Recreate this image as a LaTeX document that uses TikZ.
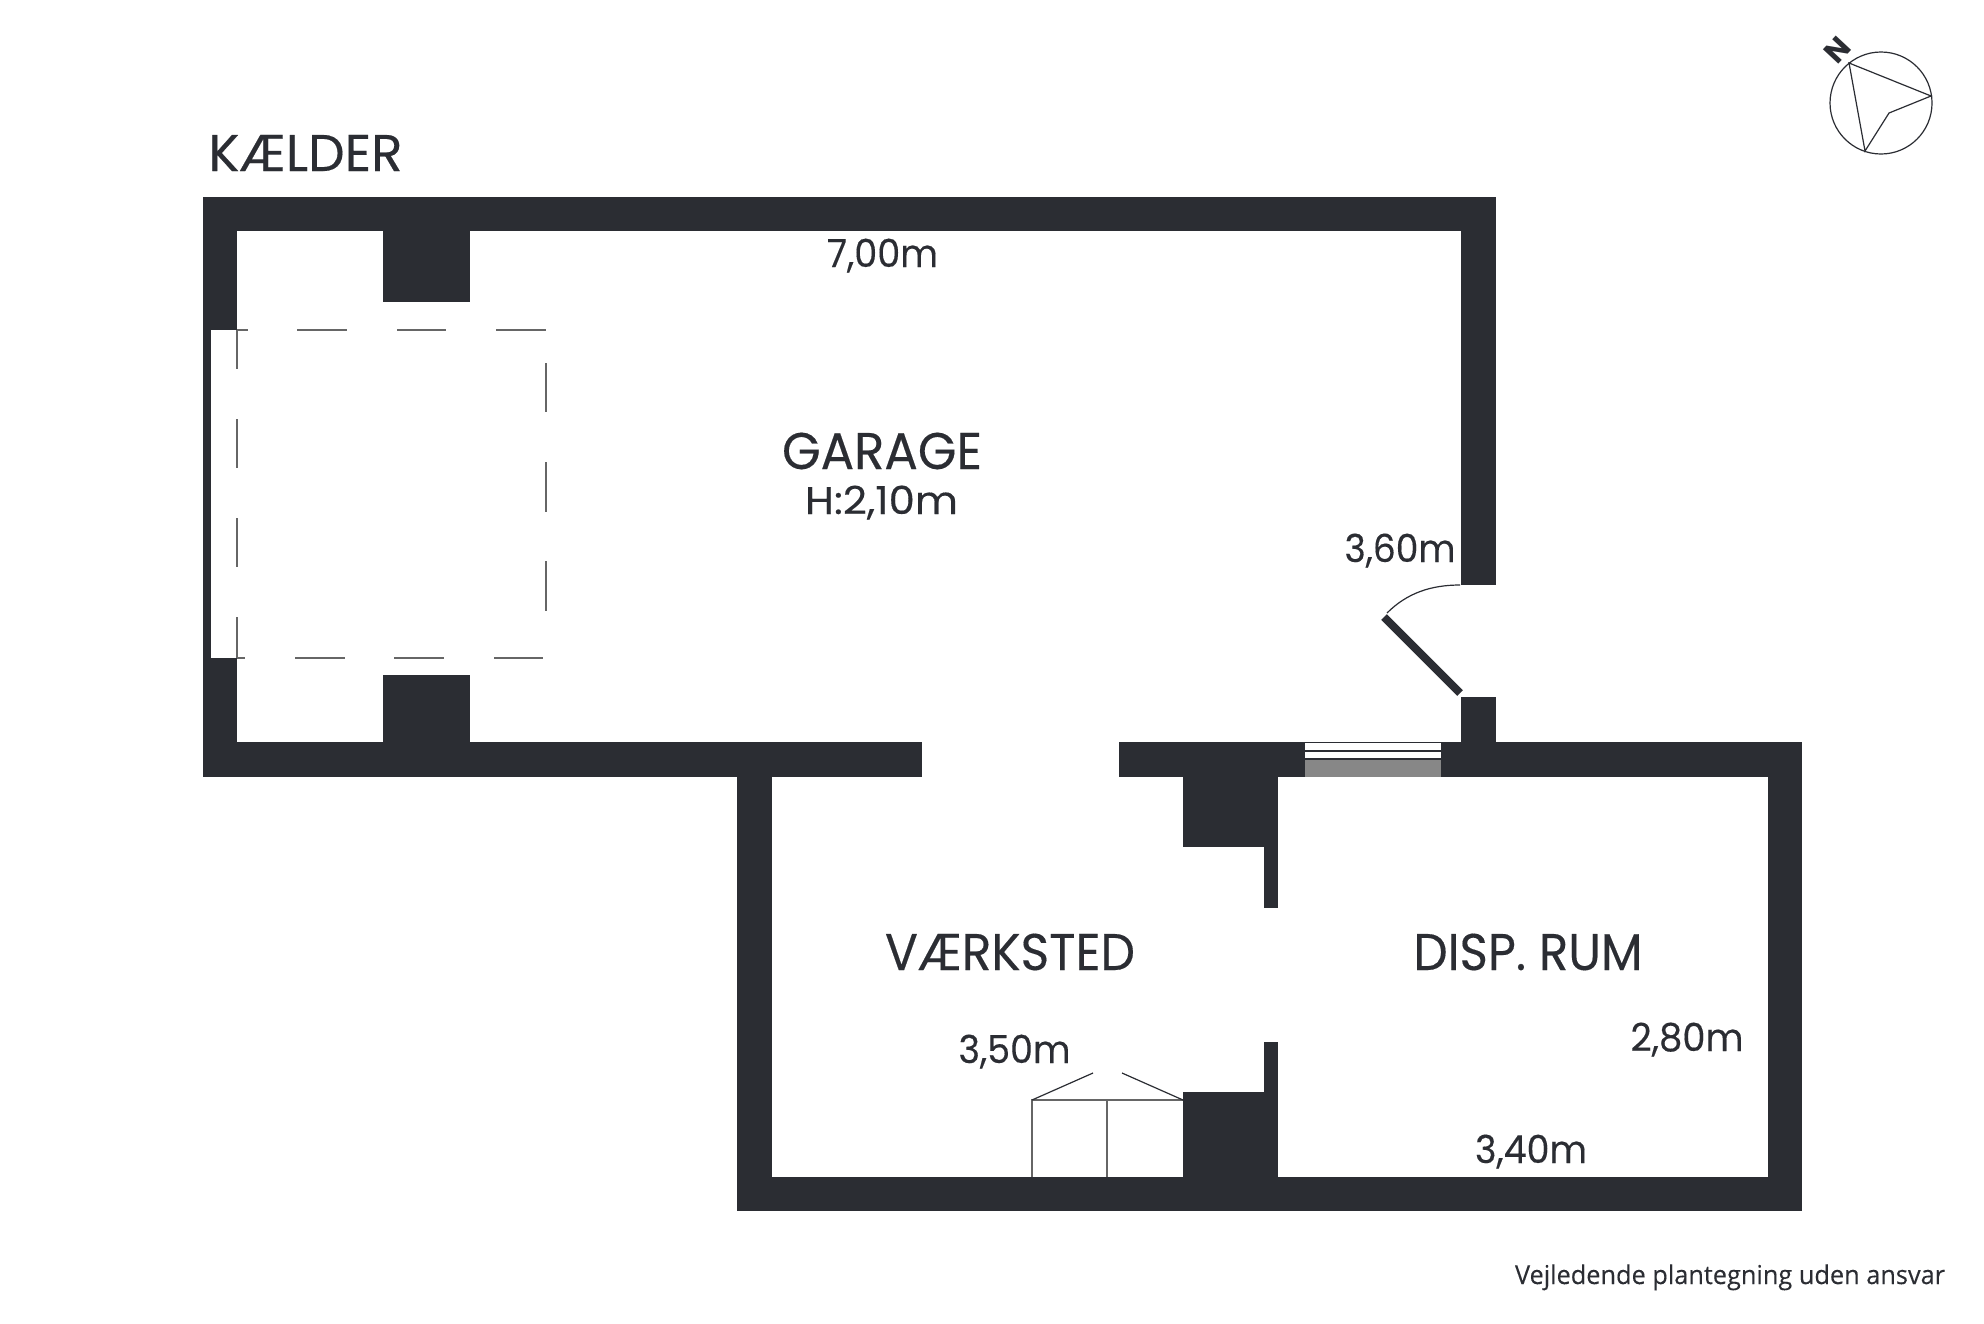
\documentclass[tikz,border=0pt]{standalone}
\usepackage{graphicx}
\usepackage{fontspec}
\setmainfont{Poppins}
\newfontfamily\titlefont[FakeBold=0.3]{Poppins}
\newfontfamily\footfont[FakeBold=0.15]{Open Sans}
\definecolor{wallc}{HTML}{2B2D33}
\definecolor{dashc}{HTML}{666666}
\definecolor{sillc}{HTML}{878787}
\newsavebox{\fitbox}
\newcommand{\fitw}[2]{\sbox{\fitbox}{#2}\pgfmathsetmacro{\fitr}{#1/\wd\fitbox}\scalebox{\fitr}[1]{\usebox{\fitbox}}}
\tikzset{
  wall/.style={fill=wallc,draw=none},
  dashline/.style={draw=dashc,line width=0.75pt},
  thinline/.style={draw=wallc,line width=0.6pt},
  cabline/.style={draw=dashc,line width=0.75pt},
  lbl/.style={anchor=base,inner sep=0pt,outer sep=0pt,text=wallc},
  roomtitle/.style={lbl,font=\titlefont\fontsize{25.8}{30}\selectfont},
  dim/.style={lbl,font=\titlefont\fontsize{19.3}{24}\selectfont},
  foot/.style={lbl,font=\footfont\fontsize{13}{16}\selectfont}
}
\begin{document}
\begin{tikzpicture}[x=0.5pt,y=-0.5pt]
\fill[white] (0,0) rectangle (1984,1323);
\useasboundingbox (0,0) rectangle (1984,1323);
% walls
\fill[wall] (203,197) rectangle (1496,231);
\fill[wall] (203,197) rectangle (237,776.5);
\fill[wall] (203,742) rectangle (922,776.5);
\fill[wall] (383,231) rectangle (470,302);
\fill[wall] (383,675) rectangle (470,742);
\fill[wall] (1461,197) rectangle (1496,585);
\fill[wall] (1461,697) rectangle (1496,742);
\fill[wall] (1119,742) rectangle (1802,777);
\fill[wall] (737,742) rectangle (772,1211);
\fill[wall] (737,1177) rectangle (1802,1211);
\fill[wall] (1768,742) rectangle (1802,1211);
\fill[wall] (1183,777) rectangle (1278,847);
\fill[wall] (1264,777) rectangle (1278,908);
\fill[wall] (1183,1092) rectangle (1278,1211);
\fill[wall] (1264,1042) rectangle (1278,1177);
% garage door opening
\fill[white] (211,330) rectangle (237,658);
% dashes
\draw[dashline] (237,330)--(248,330) (297,330)--(347,330) (397,330)--(446,330) (496,330)--(546,330);
\draw[dashline] (237,658)--(245,658) (295,658)--(345,658) (394,658)--(444,658) (494,658)--(543,658);
\draw[dashline] (237,330)--(237,369) (237,419)--(237,468) (237,518)--(237,567) (237,617)--(237,658);
\draw[dashline] (546,363)--(546,412) (546,462)--(546,512) (546,561)--(546,611);
% window
\fill[white] (1305,742) rectangle (1441,759);
\fill[sillc] (1305,759) rectangle (1441,777);
\draw[thinline] (1305,742.5)--(1441,742.5) (1305,751)--(1441,751) (1305,759)--(1441,759);
% door
\draw[wallc,line width=4pt] (1460,693)--(1384,617);
\draw[thinline] (1460,585) .. controls (1431,585) and (1407,593) .. (1387,613);
% cabinet
\draw[cabline] (1032,1177)--(1032,1100)--(1183,1100);
\draw[cabline] (1107,1100)--(1107,1177);
\draw[thinline] (1032,1100)--(1093,1073) (1183,1100)--(1122,1073);
% compass
\draw[wallc,line width=0.6pt] (1881,103) circle [radius=51];
\draw[wallc,line width=0.6pt,line join=miter] (1849,63)--(1931,96)--(1889,113)--(1865,151)--cycle;
\node[lbl,anchor=center,rotate=47,font=\bfseries\fontsize{15}{18}\selectfont] (north) at (1837,50) {N};
% labels
\node[roomtitle] (kaelder) at (305.5,171) {\fitw{97}{KÆLDER}};
\node[roomtitle] (garage) at (882,469) {\fitw{100}{GARAGE}};
\node[dim] (height) at (881.5,514) {\fitw{76.5}{H:2,10m}};
\node[roomtitle] (vaerksted) at (1010,970) {\fitw{125}{VÆRKSTED}};
\node[roomtitle] (disp) at (1528,970) {\fitw{114.5}{DISP. RUM}};
\node[dim] (d700) at (882.5,267) {\fitw{55.5}{7,00m}};
\node[dim] (d360) at (1400,562) {\fitw{55.5}{3,60m}};
\node[dim] (d350) at (1014.5,1063) {\fitw{56}{3,50m}};
\node[dim] (d280) at (1687,1051) {\fitw{56.5}{2,80m}};
\node[dim] (d340) at (1531,1163) {\fitw{56}{3,40m}};
\node[foot] (footer) at (1730,1284) {\fitw{215}{Vejledende plantegning uden ansvar}};
\end{tikzpicture}
\end{document}
